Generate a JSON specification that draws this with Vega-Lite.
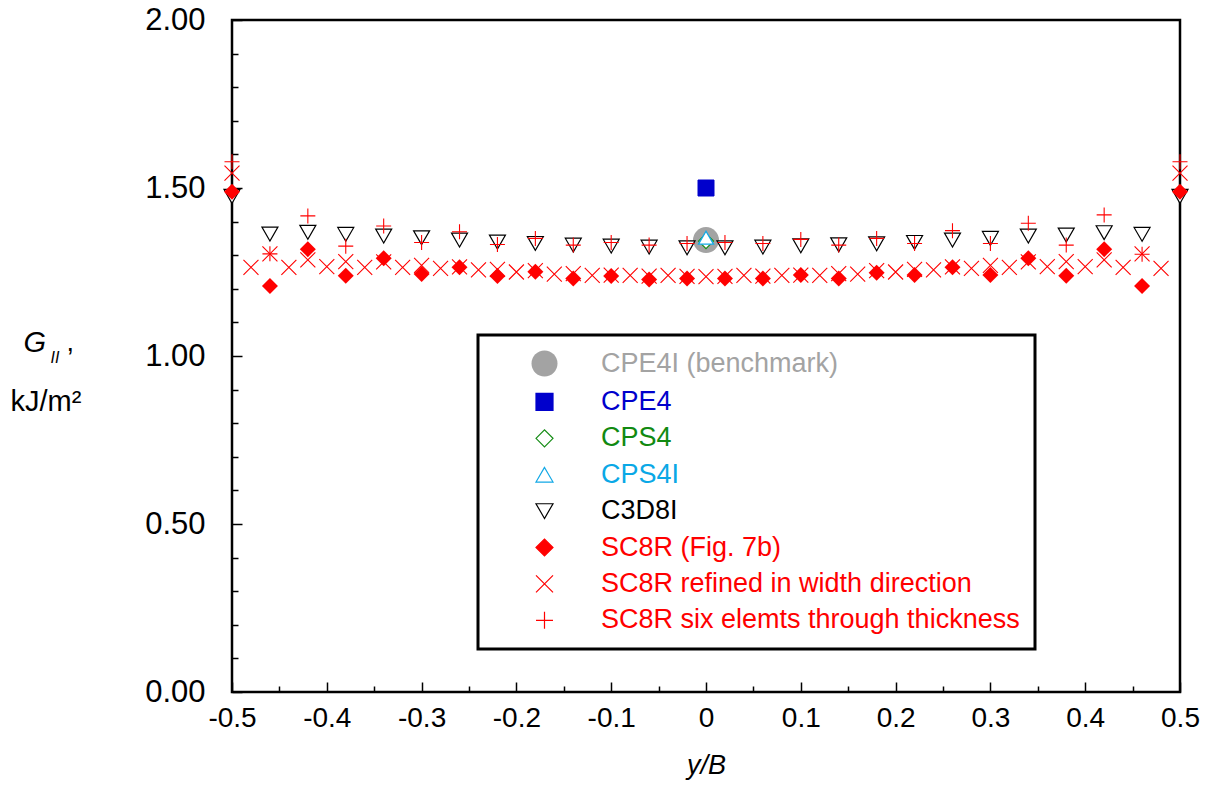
{
  "$schema": "https://vega.github.io/schema/vega-lite/v6.json",
  "width": 948,
  "height": 672,
  "autosize": {"type": "none"},
  "padding": {"left": 232, "top": 20, "right": 34, "bottom": 96},
  "background": "white",
  "config": {
    "view": {"stroke": "black", "strokeWidth": 2.5},
    "axis": {"grid": false, "domain": false, "tickColor": "black", "labelColor": "black", "titleColor": "black", "labelFlush": false, "labelOverlap": false},
    "legend": {"strokeWidth": 3}
  },
  "datasets": {
    "pts": [
      {"series": "CPE4I (benchmark)", "x": 0, "y": 1.345},
      {"series": "CPE4", "x": 0, "y": 1.5},
      {"series": "CPS4", "x": 0, "y": 1.342},
      {"series": "CPS4I", "x": 0, "y": 1.352},
      {"series": "C3D8I", "x": -0.5, "y": 1.475},
      {"series": "C3D8I", "x": -0.46, "y": 1.363},
      {"series": "C3D8I", "x": -0.42, "y": 1.368},
      {"series": "C3D8I", "x": -0.38, "y": 1.362},
      {"series": "C3D8I", "x": -0.34, "y": 1.357},
      {"series": "C3D8I", "x": -0.3, "y": 1.352},
      {"series": "C3D8I", "x": -0.26, "y": 1.345},
      {"series": "C3D8I", "x": -0.22, "y": 1.339},
      {"series": "C3D8I", "x": -0.18, "y": 1.335},
      {"series": "C3D8I", "x": -0.14, "y": 1.33},
      {"series": "C3D8I", "x": -0.1, "y": 1.327},
      {"series": "C3D8I", "x": -0.06, "y": 1.324},
      {"series": "C3D8I", "x": -0.02, "y": 1.322},
      {"series": "C3D8I", "x": 0.02, "y": 1.322},
      {"series": "C3D8I", "x": 0.06, "y": 1.324},
      {"series": "C3D8I", "x": 0.1, "y": 1.328},
      {"series": "C3D8I", "x": 0.14, "y": 1.331},
      {"series": "C3D8I", "x": 0.18, "y": 1.334},
      {"series": "C3D8I", "x": 0.22, "y": 1.338},
      {"series": "C3D8I", "x": 0.26, "y": 1.345},
      {"series": "C3D8I", "x": 0.3, "y": 1.35},
      {"series": "C3D8I", "x": 0.34, "y": 1.357},
      {"series": "C3D8I", "x": 0.38, "y": 1.36},
      {"series": "C3D8I", "x": 0.42, "y": 1.367},
      {"series": "C3D8I", "x": 0.46, "y": 1.362},
      {"series": "C3D8I", "x": 0.5, "y": 1.475},
      {"series": "SC8R (Fig. 7b)", "x": -0.5, "y": 1.489},
      {"series": "SC8R (Fig. 7b)", "x": -0.46, "y": 1.208},
      {"series": "SC8R (Fig. 7b)", "x": -0.42, "y": 1.318},
      {"series": "SC8R (Fig. 7b)", "x": -0.38, "y": 1.239},
      {"series": "SC8R (Fig. 7b)", "x": -0.34, "y": 1.291},
      {"series": "SC8R (Fig. 7b)", "x": -0.3, "y": 1.244},
      {"series": "SC8R (Fig. 7b)", "x": -0.26, "y": 1.264},
      {"series": "SC8R (Fig. 7b)", "x": -0.22, "y": 1.238},
      {"series": "SC8R (Fig. 7b)", "x": -0.18, "y": 1.251},
      {"series": "SC8R (Fig. 7b)", "x": -0.14, "y": 1.231},
      {"series": "SC8R (Fig. 7b)", "x": -0.1, "y": 1.238},
      {"series": "SC8R (Fig. 7b)", "x": -0.06, "y": 1.228},
      {"series": "SC8R (Fig. 7b)", "x": -0.02, "y": 1.231},
      {"series": "SC8R (Fig. 7b)", "x": 0.02, "y": 1.231},
      {"series": "SC8R (Fig. 7b)", "x": 0.06, "y": 1.231},
      {"series": "SC8R (Fig. 7b)", "x": 0.1, "y": 1.241},
      {"series": "SC8R (Fig. 7b)", "x": 0.14, "y": 1.231},
      {"series": "SC8R (Fig. 7b)", "x": 0.18, "y": 1.248},
      {"series": "SC8R (Fig. 7b)", "x": 0.22, "y": 1.241},
      {"series": "SC8R (Fig. 7b)", "x": 0.26, "y": 1.264},
      {"series": "SC8R (Fig. 7b)", "x": 0.3, "y": 1.241},
      {"series": "SC8R (Fig. 7b)", "x": 0.34, "y": 1.291},
      {"series": "SC8R (Fig. 7b)", "x": 0.38, "y": 1.239},
      {"series": "SC8R (Fig. 7b)", "x": 0.42, "y": 1.318},
      {"series": "SC8R (Fig. 7b)", "x": 0.46, "y": 1.208},
      {"series": "SC8R (Fig. 7b)", "x": 0.5, "y": 1.489},
      {"series": "SC8R  refined in width direction", "x": -0.5, "y": 1.544},
      {"series": "SC8R  refined in width direction", "x": -0.48, "y": 1.264},
      {"series": "SC8R  refined in width direction", "x": -0.46, "y": 1.304},
      {"series": "SC8R  refined in width direction", "x": -0.44, "y": 1.264},
      {"series": "SC8R  refined in width direction", "x": -0.42, "y": 1.286},
      {"series": "SC8R  refined in width direction", "x": -0.4, "y": 1.266},
      {"series": "SC8R  refined in width direction", "x": -0.38, "y": 1.281},
      {"series": "SC8R  refined in width direction", "x": -0.36, "y": 1.264},
      {"series": "SC8R  refined in width direction", "x": -0.34, "y": 1.28},
      {"series": "SC8R  refined in width direction", "x": -0.32, "y": 1.264},
      {"series": "SC8R  refined in width direction", "x": -0.3, "y": 1.27},
      {"series": "SC8R  refined in width direction", "x": -0.28, "y": 1.261},
      {"series": "SC8R  refined in width direction", "x": -0.26, "y": 1.265},
      {"series": "SC8R  refined in width direction", "x": -0.24, "y": 1.256},
      {"series": "SC8R  refined in width direction", "x": -0.22, "y": 1.258},
      {"series": "SC8R  refined in width direction", "x": -0.2, "y": 1.25},
      {"series": "SC8R  refined in width direction", "x": -0.18, "y": 1.254},
      {"series": "SC8R  refined in width direction", "x": -0.16, "y": 1.244},
      {"series": "SC8R  refined in width direction", "x": -0.14, "y": 1.245},
      {"series": "SC8R  refined in width direction", "x": -0.12, "y": 1.24},
      {"series": "SC8R  refined in width direction", "x": -0.1, "y": 1.241},
      {"series": "SC8R  refined in width direction", "x": -0.08, "y": 1.24},
      {"series": "SC8R  refined in width direction", "x": -0.06, "y": 1.238},
      {"series": "SC8R  refined in width direction", "x": -0.04, "y": 1.24},
      {"series": "SC8R  refined in width direction", "x": -0.02, "y": 1.237},
      {"series": "SC8R  refined in width direction", "x": 0, "y": 1.236},
      {"series": "SC8R  refined in width direction", "x": 0.02, "y": 1.237},
      {"series": "SC8R  refined in width direction", "x": 0.04, "y": 1.24},
      {"series": "SC8R  refined in width direction", "x": 0.06, "y": 1.238},
      {"series": "SC8R  refined in width direction", "x": 0.08, "y": 1.24},
      {"series": "SC8R  refined in width direction", "x": 0.1, "y": 1.241},
      {"series": "SC8R  refined in width direction", "x": 0.12, "y": 1.24},
      {"series": "SC8R  refined in width direction", "x": 0.14, "y": 1.245},
      {"series": "SC8R  refined in width direction", "x": 0.16, "y": 1.244},
      {"series": "SC8R  refined in width direction", "x": 0.18, "y": 1.254},
      {"series": "SC8R  refined in width direction", "x": 0.2, "y": 1.25},
      {"series": "SC8R  refined in width direction", "x": 0.22, "y": 1.258},
      {"series": "SC8R  refined in width direction", "x": 0.24, "y": 1.256},
      {"series": "SC8R  refined in width direction", "x": 0.26, "y": 1.265},
      {"series": "SC8R  refined in width direction", "x": 0.28, "y": 1.261},
      {"series": "SC8R  refined in width direction", "x": 0.3, "y": 1.27},
      {"series": "SC8R  refined in width direction", "x": 0.32, "y": 1.264},
      {"series": "SC8R  refined in width direction", "x": 0.34, "y": 1.28},
      {"series": "SC8R  refined in width direction", "x": 0.36, "y": 1.266},
      {"series": "SC8R  refined in width direction", "x": 0.38, "y": 1.281},
      {"series": "SC8R  refined in width direction", "x": 0.4, "y": 1.266},
      {"series": "SC8R  refined in width direction", "x": 0.42, "y": 1.286},
      {"series": "SC8R  refined in width direction", "x": 0.44, "y": 1.264},
      {"series": "SC8R  refined in width direction", "x": 0.46, "y": 1.304},
      {"series": "SC8R  refined in width direction", "x": 0.48, "y": 1.261},
      {"series": "SC8R  refined in width direction", "x": 0.5, "y": 1.544},
      {"series": "SC8R six elemts through thickness", "x": -0.5, "y": 1.578},
      {"series": "SC8R six elemts through thickness", "x": -0.46, "y": 1.304},
      {"series": "SC8R six elemts through thickness", "x": -0.42, "y": 1.417},
      {"series": "SC8R six elemts through thickness", "x": -0.38, "y": 1.327},
      {"series": "SC8R six elemts through thickness", "x": -0.34, "y": 1.387},
      {"series": "SC8R six elemts through thickness", "x": -0.3, "y": 1.338},
      {"series": "SC8R six elemts through thickness", "x": -0.26, "y": 1.37},
      {"series": "SC8R six elemts through thickness", "x": -0.22, "y": 1.332},
      {"series": "SC8R six elemts through thickness", "x": -0.18, "y": 1.35},
      {"series": "SC8R six elemts through thickness", "x": -0.14, "y": 1.33},
      {"series": "SC8R six elemts through thickness", "x": -0.1, "y": 1.338},
      {"series": "SC8R six elemts through thickness", "x": -0.06, "y": 1.33},
      {"series": "SC8R six elemts through thickness", "x": -0.02, "y": 1.335},
      {"series": "SC8R six elemts through thickness", "x": 0.02, "y": 1.338},
      {"series": "SC8R six elemts through thickness", "x": 0.06, "y": 1.335},
      {"series": "SC8R six elemts through thickness", "x": 0.1, "y": 1.347},
      {"series": "SC8R six elemts through thickness", "x": 0.14, "y": 1.33},
      {"series": "SC8R six elemts through thickness", "x": 0.18, "y": 1.35},
      {"series": "SC8R six elemts through thickness", "x": 0.22, "y": 1.335},
      {"series": "SC8R six elemts through thickness", "x": 0.26, "y": 1.373},
      {"series": "SC8R six elemts through thickness", "x": 0.3, "y": 1.335},
      {"series": "SC8R six elemts through thickness", "x": 0.34, "y": 1.395},
      {"series": "SC8R six elemts through thickness", "x": 0.38, "y": 1.33},
      {"series": "SC8R six elemts through thickness", "x": 0.42, "y": 1.42},
      {"series": "SC8R six elemts through thickness", "x": 0.46, "y": 1.303},
      {"series": "SC8R six elemts through thickness", "x": 0.5, "y": 1.578}
    ]
  },
  "data": {"name": "pts"},
  "encoding": {
    "x": {"field": "x", "type": "quantitative", "scale": {"domain": [-0.5, 0.5], "nice": false, "zero": false}, "axis": null},
    "y": {"field": "y", "type": "quantitative", "scale": {"domain": [0, 2], "nice": false, "zero": false}, "axis": null},
    "shape": {
      "field": "series", "type": "nominal",
      "scale": {
        "domain": ["CPE4I (benchmark)", "CPE4", "CPS4", "CPS4I", "C3D8I", "SC8R (Fig. 7b)", "SC8R  refined in width direction", "SC8R six elemts through thickness"],
        "range": ["circle", "square", "diamond", "triangle-up", "triangle-down", "diamond", "M-1,-1L1,1M-1,1L1,-1", "M-1,0L1,0M0,-1L0,1"]
      },
      "legend": {
        "orient": "none", "legendX": 246, "legendY": 315, "title": null,
        "strokeColor": "black", "fillColor": "white", "padding": 15,
        "labelFont": "Liberation Sans", "labelFontSize": 27, "labelLimit": 800,
        "labelColor": {"expr": "datum.value === 'CPE4I (benchmark)' ? '#a3a3a3' : datum.value === 'CPE4' ? '#0000cc' : datum.value === 'CPS4' ? '#118a11' : datum.value === 'CPS4I' ? '#0aa8e6' : datum.value === 'C3D8I' ? '#000000' : '#ff0000'"},
        "symbolSize": {"expr": "datum.value === 'CPE4I (benchmark)' ? 676 : 289"},
        "symbolStrokeWidth": 1.2, "symbolOffset": 38, "labelOffset": 43, "rowPadding": 8.4
      }
    },
    "stroke": {
      "field": "series", "type": "nominal",
      "scale": {
        "domain": ["CPE4I (benchmark)", "CPE4", "CPS4", "CPS4I", "C3D8I", "SC8R (Fig. 7b)", "SC8R  refined in width direction", "SC8R six elemts through thickness"],
        "range": ["transparent", "#0000cc", "#158c15", "#12a8e6", "#000000", "#ff0000", "#ff0000", "#ff0000"]
      }
    },
    "fill": {
      "field": "series", "type": "nominal",
      "scale": {
        "domain": ["CPE4I (benchmark)", "CPE4", "CPS4", "CPS4I", "C3D8I", "SC8R (Fig. 7b)", "SC8R  refined in width direction", "SC8R six elemts through thickness"],
        "range": ["#a3a3a3", "#0000cc", "#ffffff", "#ffffff", "#ffffff", "#ff0000", "transparent", "transparent"]
      }
    }
  },
  "resolve": {"axis": {"x": "independent", "y": "independent"}},
  "layer": [
    {
      "transform": [{"filter": {"field": "series", "equal": "CPE4I (benchmark)"}}],
      "mark": {"type": "point", "size": 676, "strokeWidth": 0, "opacity": 1},
      "encoding": {
        "x": {"field": "x", "type": "quantitative", "scale": {"domain": [-0.5, 0.5], "nice": false, "zero": false},
          "axis": {"orient": "bottom", "values": [-0.5, -0.4, -0.3, -0.2, -0.1, 0, 0.1, 0.2, 0.3, 0.4, 0.5],
            "labelExpr": "datum.value == 0 ? '0' : replace(format(datum.value, '.1f'), '\u2212', '-')",
            "tickSize": -10, "tickWidth": 1.5, "labelPadding": 22,
            "labelFont": "Liberation Sans", "labelFontSize": 28,
            "title": "y/B", "titleFont": "Liberation Sans", "titleFontSize": 27, "titleFontStyle": "italic", "titleFontWeight": "normal",
            "titleX": 474, "titleY": 73, "titleAlign": "center", "titleBaseline": "middle"}},
        "y": {"field": "y", "type": "quantitative", "scale": {"domain": [0, 2], "nice": false, "zero": false},
          "axis": {"orient": "left", "values": [0, 0.5, 1, 1.5, 2], "format": ".2f",
            "tickSize": -10, "tickWidth": 1.5, "labelPadding": 37,
            "labelFont": "Liberation Sans", "labelFontSize": 31,
            "title": "kJ/m²", "titleFont": "Liberation Sans", "titleFontSize": 29, "titleFontWeight": "normal",
            "titleAngle": 0, "titleX": -222, "titleY": 381, "titleAlign": "left", "titleBaseline": "middle"}}
      }
    },
    {
      "transform": [{"filter": {"field": "series", "equal": "CPE4"}}],
      "mark": {"type": "point", "size": 256, "strokeWidth": 1, "opacity": 1},
      "encoding": {
        "x": {"field": "x", "type": "quantitative",
          "axis": {"orient": "bottom", "values": [-0.45, -0.35, -0.25, -0.15, -0.05, 0.05, 0.15, 0.25, 0.35, 0.45],
            "labels": false, "tickSize": -6, "tickWidth": 1.5, "title": null}},
        "y": {"field": "y", "type": "quantitative",
          "axis": {"orient": "left", "values": [0.1, 0.2, 0.3, 0.4, 0.6, 0.7, 0.8, 0.9, 1.1, 1.2, 1.3, 1.4, 1.6, 1.7, 1.8, 1.9],
            "labels": false, "tickSize": -6, "tickWidth": 1.5,
            "title": "G", "titleFont": "Liberation Sans", "titleFontSize": 29, "titleFontStyle": "italic", "titleFontWeight": "normal",
            "titleAngle": 0, "titleX": -209, "titleY": 322, "titleAlign": "left", "titleBaseline": "middle"}}
      }
    },
    {
      "transform": [{"filter": {"field": "series", "equal": "CPS4"}}],
      "mark": {"type": "point", "size": 225, "strokeWidth": 1.2, "opacity": 1},
      "encoding": {
        "y": {"field": "y", "type": "quantitative",
          "axis": {"orient": "left", "labels": false, "ticks": false, "title": "II", "titleFont": "Liberation Sans", "titleFontSize": 16, "titleFontStyle": "italic", "titleFontWeight": "normal",
            "titleAngle": 0, "titleX": -182, "titleY": 337, "titleAlign": "left", "titleBaseline": "middle"}}
      }
    },
    {
      "transform": [{"filter": {"field": "series", "equal": "CPS4I"}}],
      "mark": {"type": "point", "size": 225, "strokeWidth": 1.3, "opacity": 1},
      "encoding": {
        "y": {"field": "y", "type": "quantitative",
          "axis": {"orient": "left", "labels": false, "ticks": false, "title": ",", "titleFont": "Liberation Sans", "titleFontSize": 27, "titleFontWeight": "normal",
            "titleAngle": 0, "titleX": -166, "titleY": 322, "titleAlign": "left", "titleBaseline": "middle"}}
      }
    },
    {
      "transform": [{"filter": {"field": "series", "equal": "C3D8I"}}],
      "mark": {"type": "point", "size": 256, "strokeWidth": 1.2, "opacity": 1}
    },
    {
      "transform": [{"filter": {"field": "series", "equal": "SC8R (Fig. 7b)"}}],
      "mark": {"type": "point", "size": 256, "strokeWidth": 0, "opacity": 1}
    },
    {
      "transform": [{"filter": {"field": "series", "equal": "SC8R  refined in width direction"}}],
      "mark": {"type": "point", "size": 225, "strokeWidth": 1.1, "opacity": 1}
    },
    {
      "transform": [{"filter": {"field": "series", "equal": "SC8R six elemts through thickness"}}],
      "mark": {"type": "point", "size": 225, "strokeWidth": 1.1, "opacity": 1}
    }
  ]
}
